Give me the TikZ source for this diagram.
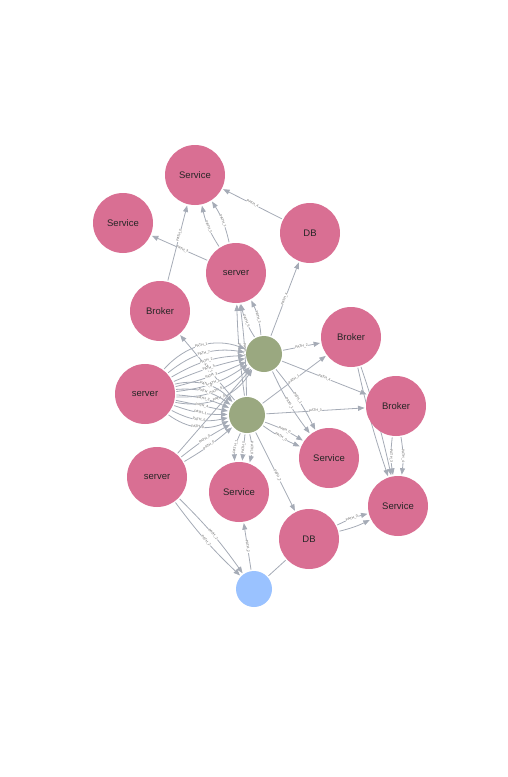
\documentclass[tikz,border=0pt]{standalone}
\usepackage{fontspec}
\setmainfont{Liberation Sans}
\usepackage{tikz}
\usetikzlibrary{arrows.meta,backgrounds}
\definecolor{nodepink}{HTML}{D96F93}
\definecolor{nodegreen}{HTML}{9AA880}
\definecolor{nodeblue}{HTML}{9AC2FF}
\definecolor{relgray}{HTML}{A5ABB6}

\begin{document}
\begin{tikzpicture}[x=1pt, y=-1pt,
    entity/.style={circle, fill=nodepink, minimum size=60pt, inner sep=0pt, outer sep=1.5pt, font=\fontsize{9.5}{11}\selectfont, text=black!85},
    hub/.style={circle, fill=nodegreen, minimum size=36pt, inner sep=0pt, outer sep=1.5pt},
    seed/.style={circle, fill=nodeblue, minimum size=36pt, inner sep=0pt, outer sep=1.5pt},
    rel/.style={-{Triangle[length=6.5pt,width=5pt]}, draw=relgray, line width=0.8pt},
    lbl/.style={sloped, fill=white, inner sep=0.3pt, font=\fontsize{3.5}{4}\selectfont, text=black!60}
]
\useasboundingbox (0,0) rectangle (507,777);
\node[entity] (svcA) at (195,175) {Service};
\node[entity] (svcB) at (123,223) {Service};
\node[entity] (dbA) at (310,233) {DB};
\node[entity] (srvA) at (236,273) {server};
\node[entity] (brkA) at (160,311) {Broker};
\node[entity] (brkB) at (351,337) {Broker};
\node[hub] (hubA) at (264,354) {};
\node[entity] (srvB) at (145,394) {server};
\node[hub] (hubB) at (247,415) {};
\node[entity] (brkC) at (396,406) {Broker};
\node[entity] (svcC) at (329,458) {Service};
\node[entity] (srvC) at (157,477) {server};
\node[entity] (svcD) at (239,492) {Service};
\node[entity] (svcE) at (398,506) {Service};
\node[entity] (dbB) at (309,539) {DB};
\node[seed] (root) at (254,589) {};

\begin{scope}[on background layer]
\draw[rel] (dbA) -- node[lbl] {PATH\_4} (svcA);
\draw[rel] (srvA) to[bend left=10] node[lbl] {PATH\_5} (svcA);
\draw[rel] (srvA) to[bend right=10] node[lbl] {PATH\_1} (svcA);
\draw[rel] (srvA) -- node[lbl, pos=0.45] {PATH\_3} (svcB);
\draw[rel] (brkA) -- node[lbl, pos=0.6] {PATH\_0} (svcA);
\draw[rel] (hubA) -- node[lbl] {PATH\_4} (dbA);
\draw[rel] (hubA) to[bend left=10] node[lbl] {PATH\_5} (srvA);
\draw[rel] (hubA) to[bend right=10] node[lbl] {PATH\_3} (srvA);
\draw[rel] (hubB) to[bend left=3] node[lbl] {PATH\_6} (srvA);
\draw[rel] (hubB) to[bend right=3] node[lbl] {PATH\_1} (srvA);
\draw[rel] (hubA) -- node[lbl] {PATH\_2} (brkB);
\draw[rel] (hubA) -- node[lbl] {PATH\_4} (brkC);
\draw[rel] (hubA) to[bend left=6] node[lbl] {PATH\_1} (svcC);
\draw[rel] (hubA) to[bend right=6] node[lbl] {PATH\_1} (svcC);
\draw[rel] (hubB) -- node[lbl] {PATH\_1} (brkB);
\draw[rel] (hubB) -- node[lbl] {PATH\_3} (brkC);
\draw[rel] (hubB) to[bend left=6] node[lbl] {PATH\_0} (svcC);
\draw[rel] (hubB) to[bend right=6] node[lbl] {PATH\_0} (svcC);
\draw[rel] (hubB) -- node[lbl, pos=0.55] {PATH\_2} (dbB);
\draw[rel] (hubB) to[bend left=14] node[lbl] {PATH\_0} (svcD);
\draw[rel] (hubB) -- node[lbl] {PATH\_5} (svcD);
\draw[rel] (hubB) to[bend right=14] node[lbl] {PATH\_1} (svcD);
\draw[rel] (hubB) -- node[lbl] {PATH\_7} (brkA);
\foreach \b/\p in {34/1,24/7,14/2,5/5,-5/3,-14/4,-24/6,-34/0}
  \draw[rel] (srvB) to[bend left=\b] node[lbl] {PATH\_\p} (hubA);
\foreach \b/\p in {30/6,20/2,10/3,0/4,-10/1,-20/5,-30/0}
  \draw[rel] (srvB) to[bend left=\b] node[lbl] {PATH\_\p} (hubB);
\draw[rel] (srvC) to[bend left=5] node[lbl] {PATH\_0} (hubB);
\draw[rel] (srvC) to[bend right=5] node[lbl] {PATH\_0} (hubB);
\draw[rel] (srvC) -- (hubA);
\draw[rel] (brkB) to[bend left=3] (svcE);
\draw[rel] (brkB) to[bend right=3] (svcE);
\draw[rel] (brkC) to[bend left=8] node[lbl] {PATH\_4} (svcE);
\draw[rel] (brkC) to[bend right=8] node[lbl] {PATH\_3} (svcE);
\draw[rel] (dbB) to[bend left=6] node[lbl] {PATH\_0} (svcE);
\draw[rel] (dbB) to[bend right=6] (svcE);
\draw[rel] (srvC) to[bend left=5] node[lbl] {PATH\_2} (root);
\draw[rel] (srvC) to[bend right=5] node[lbl] {PATH\_2} (root);
\draw[rel] (root) -- node[lbl] {PATH\_2} (svcD);
\draw[relgray, line width=0.8pt] (root) -- (dbB);
\end{scope}
\end{tikzpicture}
\end{document}
